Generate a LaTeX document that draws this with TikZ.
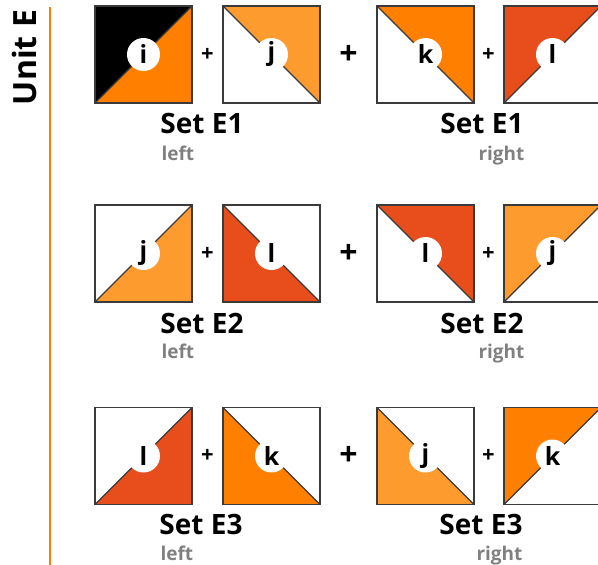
\documentclass[tikz,border=0pt]{standalone}
\usepackage{fontspec}
\setmainfont{Open Sans}

\definecolor{unitorange}{HTML}{FF7F00}
\definecolor{lightorange}{HTML}{FD9B2F}
\definecolor{redorange}{HTML}{E84E1C}
\definecolor{edgegray}{HTML}{3A3A3A}
\definecolor{notegray}{HTML}{808080}

\tikzset{
  tile/.style={minimum size=97pt, inner sep=0pt, outer sep=0pt},
  edge/.style={draw=edgegray, line width=1.2pt},
  disc/.style={circle, fill=white, minimum size=33pt, inner sep=0pt, font=\bfseries\fontsize{25}{25}\selectfont},
  setlabel/.style={anchor=base, font=\bfseries\fontsize{28}{30}\selectfont},
  sidelabel/.style={text=notegray, font=\bfseries\fontsize{19}{21}\selectfont},
  smallplus/.style={font=\bfseries\fontsize{22}{22}\selectfont},
  bigplus/.style={font=\bfseries\fontsize{32}{32}\selectfont}
}

% [background] name, centre, colour, corner, diagonal ends, letter
\newcommand{\tileE}[8][white]{%
  \node[tile, fill=#1] (#2) at (#3) {};
  \fill[#4] (#2.#5) -- (#2.#6) -- (#2.#7) -- cycle;
  \draw[edge] (#2.#6) -- (#2.#7);
  \draw[edge] (#2.north west) rectangle (#2.south east);
  \node[disc] (#2c) at (#2) {#8};
}

\begin{document}
\begin{tikzpicture}[x=1pt, y=-1pt]
  \useasboundingbox (0,0) rectangle (598,565);

  % unit heading and rule
  \node[rotate=90, anchor=base, font=\bfseries\fontsize{32}{32}\selectfont] (unit) at (36,57.5) {Unit E};
  \coordinate (ruletop) at (50,7);
  \coordinate (rulebot) at (50,565);
  \draw[unitorange, line width=2pt] (ruletop) -- (rulebot);

  % set E1
  \tileE[black]{a1}{143.5,54.5}{unitorange}{south east}{north east}{south west}{i}
  \tileE{a2}{271.5,54.5}{lightorange}{north east}{north west}{south east}{j}
  \tileE{a3}{425.5,54.5}{unitorange}{north east}{north west}{south east}{k}
  \tileE{a4}{552.5,54.5}{redorange}{north west}{north east}{south west}{l}
  \node[smallplus] (pa1) at (207.5,54.5) {+};
  \node[bigplus] (pa2) at (348.5,54.5) {+};
  \node[smallplus] (pa3) at (488.5,54.5) {+};
  \node[setlabel] (sa1) at (202,133) {Set E1};
  \node[setlabel] (sa2) at (482,133) {Set E1};
  \node[sidelabel, anchor=base west] (la1) at (158,160) {left};
  \node[sidelabel, anchor=base east] (la2) at (528,160) {right};

  % set E2
  \tileE{b1}{143.5,253.5}{lightorange}{south east}{north east}{south west}{j}
  \tileE{b2}{271.5,253.5}{redorange}{south west}{north west}{south east}{l}
  \tileE{b3}{425.5,253.5}{redorange}{north east}{north west}{south east}{l}
  \tileE{b4}{552.5,253.5}{lightorange}{north west}{north east}{south west}{j}
  \node[smallplus] (pb1) at (207.5,253.5) {+};
  \node[bigplus] (pb2) at (348.5,253.5) {+};
  \node[smallplus] (pb3) at (488.5,253.5) {+};
  \node[setlabel] (sb1) at (202,333) {Set E2};
  \node[setlabel] (sb2) at (482,333) {Set E2};
  \node[sidelabel, anchor=base west] (lb1) at (158,358) {left};
  \node[sidelabel, anchor=base east] (lb2) at (528,358) {right};

  % set E3
  \tileE{c1}{143.5,456}{redorange}{south east}{north east}{south west}{l}
  \tileE{c2}{271.5,456}{unitorange}{south west}{north west}{south east}{k}
  \tileE{c3}{425.5,456}{lightorange}{south west}{north west}{south east}{j}
  \tileE{c4}{552.5,456}{unitorange}{north west}{north east}{south west}{k}
  \node[smallplus] (pc1) at (207.5,456) {+};
  \node[bigplus] (pc2) at (348.5,456) {+};
  \node[smallplus] (pc3) at (488.5,456) {+};
  \node[setlabel] (sc1) at (201,534) {Set E3};
  \node[setlabel] (sc2) at (481,534) {Set E3};
  \node[sidelabel, anchor=base west] (lc1) at (157,560) {left};
  \node[sidelabel, anchor=base east] (lc2) at (526,560) {right};
\end{tikzpicture}
\end{document}
